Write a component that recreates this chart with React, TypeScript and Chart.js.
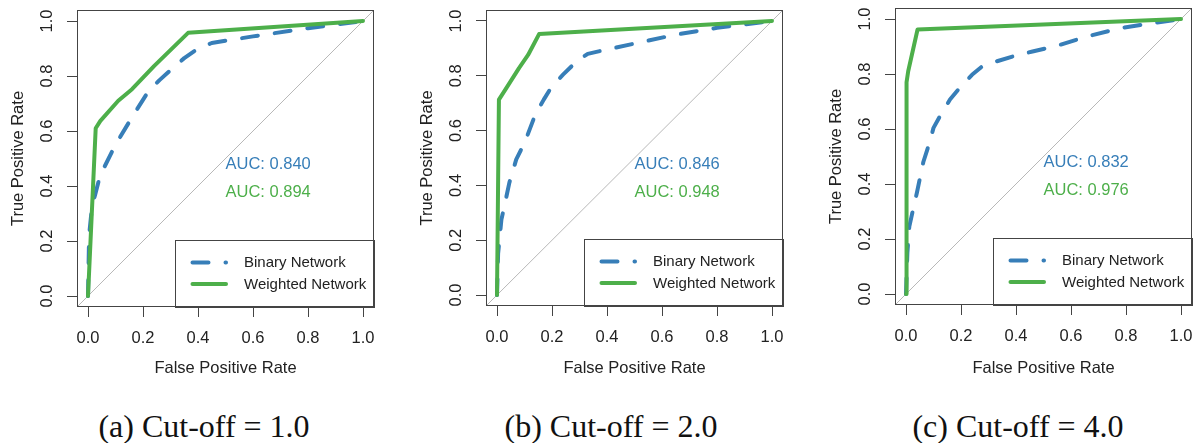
import React, { useEffect, useRef } from "react";
import { Chart, registerables } from "chart.js";

Chart.register(...registerables);

// ---------- data ----------
const tickValues = [0, 0.2, 0.4, 0.6, 0.8, 1.0];
const tickLabels = ["0.0", "0.2", "0.4", "0.6", "0.8", "1.0"];
const xAxisTitle = "False Positive Rate";
const yAxisTitle = "True Positive Rate";
const seriesNames = ["Binary Network", "Weighted Network"];
const captions = ["(a) Cut-off = 1.0", "(b) Cut-off = 2.0", "(c) Cut-off = 4.0"];
const aucBinary = ["0.840", "0.846", "0.832"];
const aucWeighted = ["0.894", "0.948", "0.976"];

// (a) cut-off = 1.0
const binaryFprA = [0, 0.004, 0.015, 0.025, 0.042, 0.06, 0.1, 0.16, 0.22, 0.26, 0.31, 0.35, 0.4, 0.45, 0.6, 0.8, 1];
const binaryTprA = [0, 0.22, 0.33, 0.365, 0.43, 0.47, 0.55, 0.65, 0.745, 0.785, 0.83, 0.865, 0.9, 0.92, 0.944, 0.974, 1];
const weightedFprA = [0, 0.028, 0.045, 0.11, 0.16, 0.24, 0.364, 1];
const weightedTprA = [0, 0.61, 0.637, 0.71, 0.752, 0.836, 0.957, 1];

// (b) cut-off = 2.0
const binaryFprB = [0, 0.004, 0.016, 0.028, 0.045, 0.07, 0.1, 0.14, 0.17, 0.2, 0.24, 0.29, 0.33, 0.4, 0.53, 0.65, 0.8, 1];
const binaryTprB = [0, 0.15, 0.275, 0.33, 0.41, 0.495, 0.555, 0.66, 0.713, 0.762, 0.804, 0.853, 0.88, 0.896, 0.924, 0.95, 0.975, 1];
const weightedFprB = [0, 0.007, 0.035, 0.08, 0.113, 0.153, 1];
const weightedTprB = [0, 0.713, 0.757, 0.828, 0.876, 0.952, 1];

// (c) cut-off = 4.0
const binaryFprC = [0, 0.005, 0.012, 0.027, 0.04, 0.063, 0.085, 0.1, 0.13, 0.16, 0.2, 0.24, 0.275, 0.31, 0.39, 0.46, 0.54, 0.66, 0.78, 0.9, 1];
const binaryTprC = [0, 0.15, 0.245, 0.313, 0.37, 0.48, 0.549, 0.604, 0.658, 0.707, 0.755, 0.797, 0.826, 0.84, 0.864, 0.882, 0.9, 0.937, 0.967, 0.985, 1];
const weightedFprC = [0, 0.002, 0.008, 0.042, 1];
const weightedTprC = [0, 0.77, 0.81, 0.962, 1];

// ---------- styles / layout ----------
const BLUE = "#377EB8";
const GREEN = "#4DAF4A";
const INK = "#222222";
const FRAME = "#444444";
const SANS = "'Liberation Sans', Arial, Helvetica, sans-serif";
const FONT_SIZE = 16.5;
const AXIS_MIN = -0.04;
const AXIS_MAX = 1.04;
const AUC_X = 0.5;
const AUC_Y = [0.477, 0.375];
const CANVAS_H = 395;
const Y_AXIS_W = 77;

type PanelSpec = {
  left: number;
  width: number;
  boxTop: number;
  boxBottom: number;
  binFpr: number[];
  binTpr: number[];
  wFpr: number[];
  wTpr: number[];
  aucB: string;
  aucW: string;
  caption: string;
  captionCenter: number;
};

const panels: PanelSpec[] = [
  { left: 0, width: 377, boxTop: 10, boxBottom: 307, binFpr: binaryFprA, binTpr: binaryTprA, wFpr: weightedFprA, wTpr: weightedTprA, aucB: aucBinary[0], aucW: aucWeighted[0], caption: captions[0], captionCenter: 204 },
  { left: 409, width: 377, boxTop: 10, boxBottom: 306, binFpr: binaryFprB, binTpr: binaryTprB, wFpr: weightedFprB, wTpr: weightedTprB, aucB: aucBinary[1], aucW: aucWeighted[1], caption: captions[1], captionCenter: 611 },
  { left: 818, width: 377, boxTop: 8, boxBottom: 305, binFpr: binaryFprC, binTpr: binaryTprC, wFpr: weightedFprC, wTpr: weightedTprC, aucB: aucBinary[2], aucW: aucWeighted[2], caption: captions[2], captionCenter: 1018 },
];

function toPoints(xs: number[], ys: number[]) {
  return xs.map((v, i) => ({ x: v, y: ys[i] }));
}

function makeDecor(spec: PanelSpec) {
  return {
    id: "rocDecor",
    beforeDatasetsDraw(chart: any) {
      const { ctx, chartArea: a, scales } = chart;
      const xs = scales.x;
      const ys = scales.y;
      ctx.save();
      ctx.beginPath();
      ctx.rect(a.left, a.top, a.right - a.left, a.bottom - a.top);
      ctx.clip();
      ctx.strokeStyle = "#b8b8b8";
      ctx.lineWidth = 1;
      ctx.beginPath();
      ctx.moveTo(xs.getPixelForValue(xs.min), ys.getPixelForValue(xs.min));
      ctx.lineTo(xs.getPixelForValue(xs.max), ys.getPixelForValue(xs.max));
      ctx.stroke();
      ctx.restore();
    },
    afterDatasetsDraw(chart: any) {
      const { ctx, chartArea: a, scales } = chart;
      const xs = scales.x;
      const ys = scales.y;
      ctx.save();
      // AUC labels
      ctx.font = `${FONT_SIZE}px ${SANS}`;
      ctx.textAlign = "left";
      ctx.textBaseline = "middle";
      ctx.fillStyle = BLUE;
      ctx.fillText(`AUC: ${spec.aucB}`, xs.getPixelForValue(AUC_X), ys.getPixelForValue(AUC_Y[0]));
      ctx.fillStyle = GREEN;
      ctx.fillText(`AUC: ${spec.aucW}`, xs.getPixelForValue(AUC_X), ys.getPixelForValue(AUC_Y[1]));

      // legend (bottom right)
      const lw = 199;
      const lh = 67;
      const L = Math.round(a.right) - lw;
      const T = Math.round(a.bottom) - lh;
      ctx.fillStyle = "#ffffff";
      ctx.fillRect(L, T, lw, lh);
      ctx.strokeStyle = FRAME;
      ctx.lineWidth = 1;
      ctx.strokeRect(L + 0.5, T + 0.5, lw, lh);
      const rows = [T + 22.5, T + 44];
      chart.data.datasets.forEach((ds: any, i: number) => {
        ctx.save();
        ctx.strokeStyle = ds.borderColor;
        ctx.lineWidth = ds.borderWidth;
        ctx.lineCap = "round";
        ctx.setLineDash(ds.borderDash || []);
        ctx.beginPath();
        ctx.moveTo(L + 17.5, rows[i]);
        ctx.lineTo(L + 51, rows[i]);
        ctx.stroke();
        ctx.restore();
        ctx.fillStyle = INK;
        ctx.font = `15px ${SANS}`;
        ctx.textAlign = "left";
        ctx.textBaseline = "middle";
        ctx.fillText(ds.label, L + 69, rows[i] + 0.5);
      });

      // plot frame
      ctx.strokeStyle = FRAME;
      ctx.lineWidth = 1;
      ctx.strokeRect(Math.round(a.left) + 0.5, Math.round(a.top) + 0.5, Math.round(a.right - a.left) - 1, Math.round(a.bottom - a.top) - 1);
      ctx.restore();
    },
  };
}

function axisCommon() {
  return {
    type: "linear" as const,
    min: AXIS_MIN,
    max: AXIS_MAX,
    afterBuildTicks: (s: any) => {
      s.ticks = tickValues.map((v) => ({ value: v }));
    },
    grid: {
      drawOnChartArea: false,
      drawTicks: true,
      tickLength: 10,
      color: FRAME,
      lineWidth: 1,
    },
    border: { display: false },
  };
}

function zeroPad(s: any) {
  s.paddingLeft = 0;
  s.paddingRight = 0;
  s.paddingTop = 0;
  s.paddingBottom = 0;
}

function RocPanel({ spec }: { spec: PanelSpec }) {
  const ref = useRef<HTMLCanvasElement>(null);
  useEffect(() => {
    const canvas = ref.current;
    if (!canvas) return;
    const labelFor = (v: any) => {
      const idx = tickValues.findIndex((t) => Math.abs(t - Number(v)) < 1e-9);
      return idx >= 0 ? tickLabels[idx] : "";
    };
    const chart = new Chart(canvas, {
      type: "line",
      data: {
        datasets: [
          {
            label: seriesNames[0],
            data: toPoints(spec.binFpr, spec.binTpr),
            borderColor: BLUE,
            backgroundColor: BLUE,
            borderWidth: 4,
            borderDash: [16, 17],
            borderCapStyle: "round",
            borderJoinStyle: "round",
            pointRadius: 0,
            tension: 0,
            fill: false,
            order: 1,
          },
          {
            label: seriesNames[1],
            data: toPoints(spec.wFpr, spec.wTpr),
            borderColor: GREEN,
            backgroundColor: GREEN,
            borderWidth: 4,
            borderCapStyle: "round",
            borderJoinStyle: "round",
            pointRadius: 0,
            tension: 0,
            fill: false,
            order: 0,
          },
        ],
      },
      options: {
        animation: false,
        responsive: false,
        maintainAspectRatio: false,
        devicePixelRatio: 1,
        events: [],
        layout: { padding: { top: spec.boxTop, right: 3, left: 0, bottom: 0 } },
        plugins: {
          legend: { display: false },
          tooltip: { enabled: false },
        },
        scales: {
          x: {
            ...axisCommon(),
            position: "bottom",
            afterFit: (s: any) => {
              s.height = CANVAS_H - spec.boxBottom;
              zeroPad(s);
            },
            ticks: {
              autoSkip: false,
              maxRotation: 0,
              minRotation: 0,
              padding: 12,
              color: INK,
              font: { family: SANS, size: FONT_SIZE },
              callback: labelFor,
            },
            title: {
              display: true,
              text: xAxisTitle,
              color: INK,
              font: { family: SANS, size: FONT_SIZE },
              padding: { top: 0, bottom: 17 },
            },
          },
          y: {
            ...axisCommon(),
            position: "left",
            afterFit: (s: any) => {
              s.width = Y_AXIS_W;
              zeroPad(s);
            },
            ticks: {
              autoSkip: false,
              minRotation: 90,
              maxRotation: 90,
              crossAlign: "center",
              padding: 8,
              color: INK,
              font: { family: SANS, size: FONT_SIZE },
              callback: labelFor,
            },
            title: {
              display: true,
              text: yAxisTitle,
              color: INK,
              font: { family: SANS, size: FONT_SIZE },
              padding: { top: 8.5, bottom: 0 },
            },
          },
        },
      } as any,
      plugins: [makeDecor(spec)],
    });
    return () => chart.destroy();
  }, [spec]);

  return (
    <canvas
      ref={ref}
      width={spec.width}
      height={CANVAS_H}
      style={{ position: "absolute", left: spec.left, top: 0, width: spec.width, height: CANVAS_H }}
    />
  );
}

export default function App() {
  return (
    <div style={{ position: "absolute", left: 0, top: 0, width: 1195, height: 443, overflow: "hidden", background: "#ffffff" }}>
      {panels.map((p, i) => (
        <RocPanel key={i} spec={p} />
      ))}
      {panels.map((p, i) => (
        <div
          key={"c" + i}
          style={{
            position: "absolute",
            left: p.captionCenter - 160,
            width: 320,
            top: 410,
            textAlign: "center",
            fontFamily: "'Liberation Serif', 'Times New Roman', serif",
            fontSize: 32,
            lineHeight: "32px",
            color: "#111",
            whiteSpace: "nowrap",
          }}
        >
          {p.caption}
        </div>
      ))}
    </div>
  );
}
